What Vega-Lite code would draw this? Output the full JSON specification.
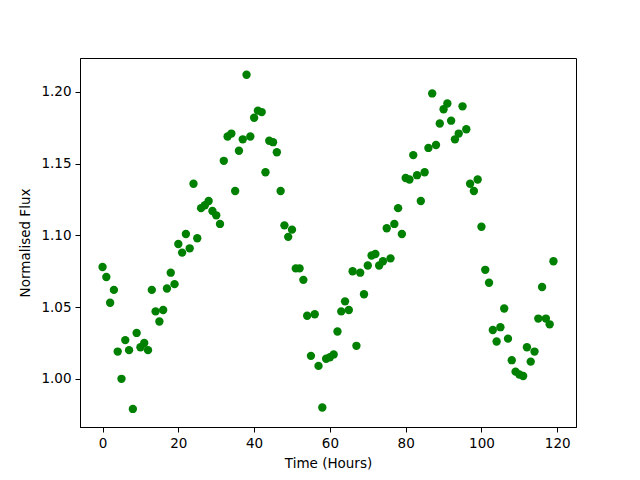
{
  "$schema": "https://vega.github.io/schema/vega-lite/v6.json",
  "autosize": {"type": "none"},
  "width": 496,
  "height": 369,
  "padding": {"left": 80, "top": 58, "right": 64, "bottom": 53},
  "background": "white",
  "config": {
    "view": {"stroke": "black", "strokeWidth": 1},
    "font": "DejaVu Sans",
    "axis": {
      "grid": false,
      "domainColor": "black",
      "domainWidth": 1,
      "tickColor": "black",
      "tickSize": 5,
      "tickWidth": 1,
      "labelFont": "DejaVu Sans",
      "labelFontSize": 13.5,
      "labelColor": "black",
      "labelPadding": 4,
      "titleFont": "DejaVu Sans",
      "titleFontSize": 13.5,
      "titleFontWeight": "normal",
      "titleColor": "black"
    }
  },
  "data": {
    "values": [
      {"t": 0, "flux": 1.078}, {"t": 1, "flux": 1.071}, {"t": 2, "flux": 1.053}, {"t": 3, "flux": 1.062},
      {"t": 4, "flux": 1.019}, {"t": 5, "flux": 1.000}, {"t": 6, "flux": 1.027}, {"t": 7, "flux": 1.020},
      {"t": 8, "flux": 0.979}, {"t": 9, "flux": 1.032}, {"t": 10, "flux": 1.022}, {"t": 11, "flux": 1.025},
      {"t": 12, "flux": 1.020}, {"t": 13, "flux": 1.062}, {"t": 14, "flux": 1.047}, {"t": 15, "flux": 1.040},
      {"t": 16, "flux": 1.048}, {"t": 17, "flux": 1.063}, {"t": 18, "flux": 1.074}, {"t": 19, "flux": 1.066},
      {"t": 20, "flux": 1.094}, {"t": 21, "flux": 1.088}, {"t": 22, "flux": 1.101}, {"t": 23, "flux": 1.091},
      {"t": 24, "flux": 1.136}, {"t": 25, "flux": 1.098}, {"t": 26, "flux": 1.119}, {"t": 27, "flux": 1.121},
      {"t": 28, "flux": 1.124}, {"t": 29, "flux": 1.117}, {"t": 30, "flux": 1.114}, {"t": 31, "flux": 1.108},
      {"t": 32, "flux": 1.152}, {"t": 33, "flux": 1.169}, {"t": 34, "flux": 1.171}, {"t": 35, "flux": 1.131},
      {"t": 36, "flux": 1.159}, {"t": 37, "flux": 1.167}, {"t": 38, "flux": 1.212}, {"t": 39, "flux": 1.169},
      {"t": 40, "flux": 1.182}, {"t": 41, "flux": 1.187}, {"t": 42, "flux": 1.186}, {"t": 43, "flux": 1.144},
      {"t": 44, "flux": 1.166}, {"t": 45, "flux": 1.165}, {"t": 46, "flux": 1.158}, {"t": 47, "flux": 1.131},
      {"t": 48, "flux": 1.107}, {"t": 49, "flux": 1.099}, {"t": 50, "flux": 1.104}, {"t": 51, "flux": 1.077},
      {"t": 52, "flux": 1.077}, {"t": 53, "flux": 1.069}, {"t": 54, "flux": 1.044}, {"t": 55, "flux": 1.016},
      {"t": 56, "flux": 1.045}, {"t": 57, "flux": 1.009}, {"t": 58, "flux": 0.980}, {"t": 59, "flux": 1.014},
      {"t": 60, "flux": 1.015}, {"t": 61, "flux": 1.017}, {"t": 62, "flux": 1.033}, {"t": 63, "flux": 1.047},
      {"t": 64, "flux": 1.054}, {"t": 65, "flux": 1.048}, {"t": 66, "flux": 1.075}, {"t": 67, "flux": 1.023},
      {"t": 68, "flux": 1.074}, {"t": 69, "flux": 1.059}, {"t": 70, "flux": 1.079}, {"t": 71, "flux": 1.086},
      {"t": 72, "flux": 1.087}, {"t": 73, "flux": 1.079}, {"t": 74, "flux": 1.082}, {"t": 75, "flux": 1.105},
      {"t": 76, "flux": 1.084}, {"t": 77, "flux": 1.108}, {"t": 78, "flux": 1.119}, {"t": 79, "flux": 1.101},
      {"t": 80, "flux": 1.140}, {"t": 81, "flux": 1.139}, {"t": 82, "flux": 1.156}, {"t": 83, "flux": 1.142},
      {"t": 84, "flux": 1.124}, {"t": 85, "flux": 1.144}, {"t": 86, "flux": 1.161}, {"t": 87, "flux": 1.199},
      {"t": 88, "flux": 1.163}, {"t": 89, "flux": 1.178}, {"t": 90, "flux": 1.188}, {"t": 91, "flux": 1.192},
      {"t": 92, "flux": 1.180}, {"t": 93, "flux": 1.167}, {"t": 94, "flux": 1.171}, {"t": 95, "flux": 1.190},
      {"t": 96, "flux": 1.174}, {"t": 97, "flux": 1.136}, {"t": 98, "flux": 1.131}, {"t": 99, "flux": 1.139},
      {"t": 100, "flux": 1.106}, {"t": 101, "flux": 1.076}, {"t": 102, "flux": 1.067}, {"t": 103, "flux": 1.034},
      {"t": 104, "flux": 1.026}, {"t": 105, "flux": 1.036}, {"t": 106, "flux": 1.049}, {"t": 107, "flux": 1.028},
      {"t": 108, "flux": 1.013}, {"t": 109, "flux": 1.005}, {"t": 110, "flux": 1.003}, {"t": 111, "flux": 1.002},
      {"t": 112, "flux": 1.022}, {"t": 113, "flux": 1.012}, {"t": 114, "flux": 1.019}, {"t": 115, "flux": 1.042},
      {"t": 116, "flux": 1.064}, {"t": 117, "flux": 1.042}, {"t": 118, "flux": 1.038}, {"t": 119, "flux": 1.082}
    ]
  },
  "mark": {"type": "point", "filled": true, "shape": "circle", "size": 70, "color": "#008000", "opacity": 1},
  "encoding": {
    "x": {
      "field": "t", "type": "quantitative",
      "scale": {"domain": [-5.95, 124.95], "nice": false, "zero": false},
      "axis": {"values": [0, 20, 40, 60, 80, 100, 120], "title": "Time (Hours)", "titlePadding": 7}
    },
    "y": {
      "field": "flux", "type": "quantitative",
      "scale": {"domain": [0.9664, 1.2237], "nice": false, "zero": false},
      "axis": {"values": [1.0, 1.05, 1.1, 1.15, 1.2], "format": ".2f", "title": "Normalised Flux", "titlePadding": 8}
    }
  }
}
